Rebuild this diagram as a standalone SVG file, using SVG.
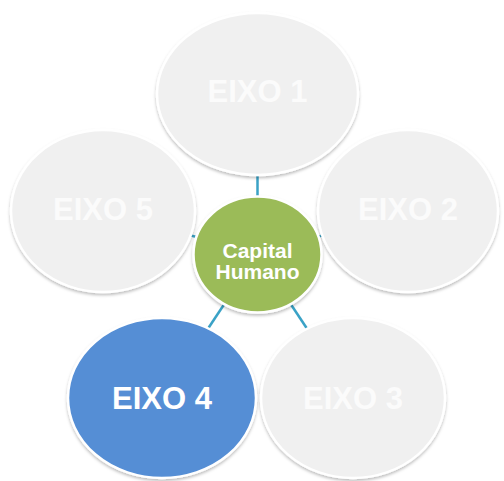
<svg xmlns="http://www.w3.org/2000/svg" width="504" height="481" viewBox="0 0 504 481">
<defs>
<filter id="sh" x="-10%" y="-10%" width="120%" height="125%">
<feDropShadow dx="0" dy="2" stdDeviation="1.5" flood-color="#000" flood-opacity="0.25"/>
</filter>
<style>
.g{fill:#f0f0f0;stroke:#fff;stroke-width:2.5;filter:url(#sh)}
.c{stroke:#3aa2c6;stroke-width:2.5}
.t{font-family:"Liberation Sans",Arial,sans-serif;font-weight:bold;text-anchor:middle}
.tg{fill:#fbfbfb;font-size:31px}
.tw{fill:#fff}
</style>
</defs>
<rect width="504" height="481" fill="#fff"/>
<g id="connectors">
<line class="c" x1="257.5" y1="254" x2="257.5" y2="94"/>
<line class="c" x1="257.5" y1="254" x2="408" y2="211"/>
<line class="c" x1="257.5" y1="254" x2="353" y2="398"/>
<line class="c" x1="257.5" y1="254" x2="162" y2="398"/>
<line class="c" x1="257.5" y1="254" x2="103" y2="211"/>
</g>
<g id="eixo1">
<ellipse class="g" cx="257.5" cy="94" rx="100.5" ry="81"/>
<text class="t tg" x="257.5" y="102">EIXO 1</text>
</g>
<g id="eixo2">
<ellipse class="g" cx="408" cy="211" rx="90" ry="81"/>
<text class="t tg" x="408" y="220">EIXO 2</text>
</g>
<g id="eixo3">
<ellipse class="g" cx="353" cy="398" rx="92" ry="80"/>
<text class="t tg" x="353" y="409">EIXO 3</text>
</g>
<g id="eixo4">
<ellipse cx="162" cy="398" rx="94" ry="80" fill="#558ed5" stroke="#fff" stroke-width="2.5" filter="url(#sh)"/>
<text class="t tw" x="162" y="409" font-size="31">EIXO 4</text>
</g>
<g id="eixo5">
<ellipse class="g" cx="103" cy="211" rx="92" ry="81"/>
<text class="t tg" x="103" y="220">EIXO 5</text>
</g>
<g id="capital">
<ellipse cx="257.5" cy="254.5" rx="64" ry="58" fill="#9bbb59" stroke="#fff" stroke-width="2.5" filter="url(#sh)"/>
<text class="t tw" x="257.5" y="258" font-size="21">Capital</text>
<text class="t tw" x="257.5" y="279" font-size="21">Humano</text>
</g>
</svg>
